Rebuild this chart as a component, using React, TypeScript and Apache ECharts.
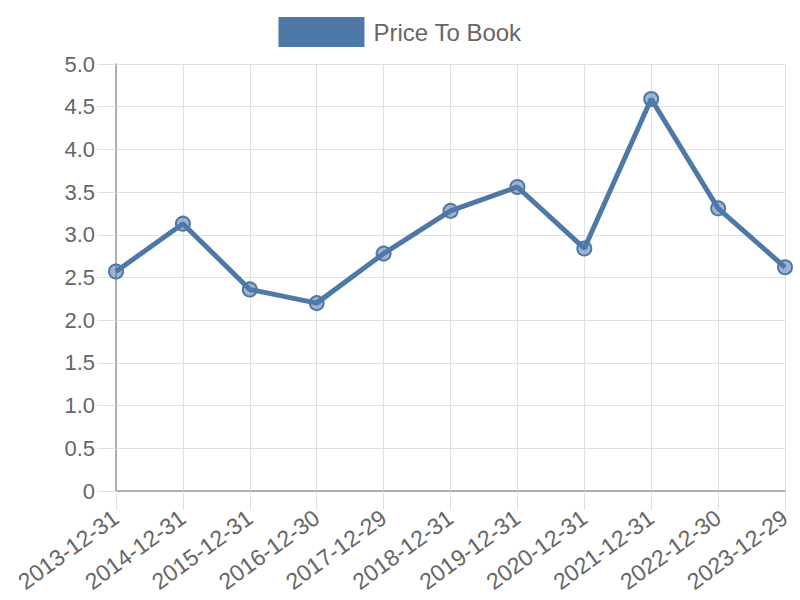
import React, { useEffect, useRef } from "react";
import * as echarts from "echarts";

const categories = [
  "2013-12-31", "2014-12-31", "2015-12-31", "2016-12-30", "2017-12-29",
  "2018-12-31", "2019-12-31", "2020-12-31", "2021-12-31", "2022-12-30", "2023-12-29",
];
const priceToBook = [2.57, 3.13, 2.36, 2.2, 2.78, 3.28, 3.56, 2.84, 4.59, 3.31, 2.62];
const seriesName = "Price To Book";

export default function App() {
  const ref = useRef<HTMLDivElement>(null);
  useEffect(() => {
    if (!ref.current) return;
    const chart = echarts.init(ref.current, null, { renderer: "svg" });
    const font = "Liberation Sans, Arial, Helvetica, sans-serif";
    const blue = "#4e79a7";
    chart.setOption({
      animation: false,
      textStyle: { fontFamily: font },
      legend: {
        top: 12,
        left: "center",
        icon: "rect",
        itemWidth: 86,
        itemHeight: 30,
        itemGap: 10,
        data: [{ name: seriesName, itemStyle: { color: blue, borderWidth: 0 } }],
        textStyle: { fontSize: 24, color: "#666", fontFamily: font, padding: [0, 0, 0, 4] },
      },
      grid: { left: 116, right: 15, top: 64, bottom: 109, containLabel: false },
      xAxis: {
        type: "category",
        data: categories,
        boundaryGap: false,
        axisLine: { show: true, lineStyle: { color: "#999", width: 1.5 } },
        axisTick: { show: true, alignWithLabel: true, length: 19, lineStyle: { color: "#e0e0e0" } },
        splitLine: { show: true, lineStyle: { color: "#e0e0e0", width: 1 } },
        axisLabel: {
          rotate: 36,
          fontSize: 23,
          color: "#666",
          margin: 24,
          interval: 0,
          fontFamily: font,
        },
      },
      yAxis: {
        type: "value",
        min: 0,
        max: 5,
        interval: 0.5,
        axisLine: { show: true, lineStyle: { color: "#999", width: 1.5 } },
        axisTick: { show: true, length: 19, lineStyle: { color: "#e0e0e0" } },
        splitLine: { show: true, lineStyle: { color: "#e0e0e0", width: 1 } },
        axisLabel: {
          fontSize: 22,
          color: "#666",
          margin: 21,
          fontFamily: font,
          formatter: (v: number) => (v === 0 ? "0" : v.toFixed(1)),
        },
      },
      series: [
        {
          name: seriesName,
          type: "line",
          data: priceToBook,
          symbol: "circle",
          symbolSize: 14,
          lineStyle: { color: blue, width: 5 },
          itemStyle: { color: "rgba(78,121,167,0.55)", borderColor: blue, borderWidth: 2 },
        },
      ],
    });
    return () => chart.dispose();
  }, []);
  return <div ref={ref} style={{ width: 800, height: 600, position: "absolute", left: 0, top: 0 }} />;
}
